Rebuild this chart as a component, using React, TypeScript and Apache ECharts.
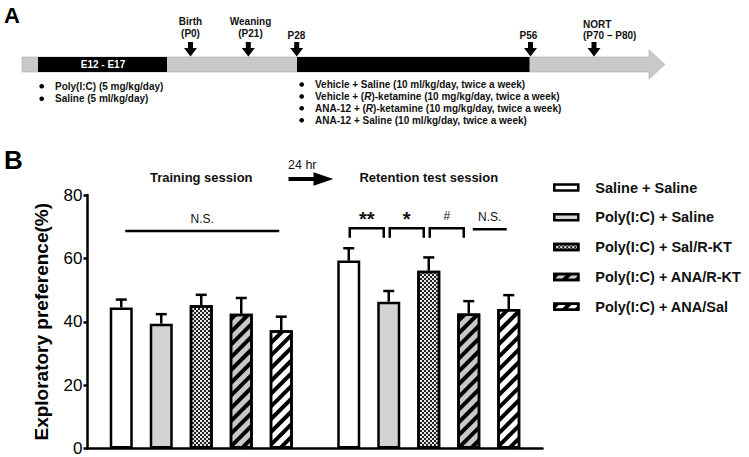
import { useEffect, useRef } from "react";
import * as echarts from "echarts";

const FONT = '"Liberation Sans", Arial, Helvetica, sans-serif';

// ---- data (panel B) ----
const sessions = ["Training session", "Retention test session"];
const groups = [
  "Saline + Saline",
  "Poly(I:C) + Saline",
  "Poly(I:C) + Sal/R-KT",
  "Poly(I:C) + ANA/R-KT",
  "Poly(I:C) + ANA/Sal",
];
const trainingMeans = [44.5, 39.4, 45.2, 42.5, 37.3];
const trainingSem = [2.5, 3.0, 3.3, 5.0, 4.3];
const retentionMeans = [59.3, 46.3, 56.1, 42.6, 44.0];
const retentionSem = [3.9, 3.4, 4.2, 3.9, 4.4];
const yTicks = [0, 20, 40, 60, 80];

// significance annotations
const sigSession = [0, 1, 1, 1, 1];
const sigFrom = [0, 0, 1, 2, 3];
const sigTo = [4, 1, 2, 3, 4];
const sigLevel = [68.6, 69.5, 69.5, 69.5, 69.2];
const sigLabels = ["N.S.", "**", "*", "#", "N.S."];
const sigKinds = ["line", "bracket", "bracket", "bracket", "line"];

// ---- panel A texts ----
const timelineLeftList = ["Poly(I:C) (5 mg/kg/day)", "Saline (5 ml/kg/day)"];
const timelineRightList = [
  "{b|Vehicle + Saline (10 ml/kg/day, twice a week)}",
  "{b|Vehicle + (}{i|R}{b|)-ketamine (10 mg/kg/day, twice a week)}",
  "{b|ANA-12 + (}{i|R}{b|)-ketamine (10 mg/kg/day, twice a week)}",
  "{b|ANA-12 + Saline (10 ml/kg/day, twice a week)}",
];

const BAR_W = 23;
const BAR_STEP = 40;

const fills = ["#ffffff", "#d2d2d2", "#e6e6e6", "#c8c8c8", "#ffffff"];
const stripe = {
  symbol: "rect",
  symbolSize: 1,
  color: "#000",
  dashArrayX: [1, 0],
  dashArrayY: [3.5, 4.5],
  rotation: -Math.PI / 4,
};
const decals: any[] = [
  null,
  null,
  {
    symbol: "rect",
    symbolSize: 1,
    color: "#222",
    dashArrayX: [[2, 2], [0, 2, 2, 0]],
    dashArrayY: [2, 0],
    rotation: 0,
  },
  stripe,
  stripe,
];

function downArrow(cx: number) {
  return {
    type: "polygon",
    shape: {
      points: [
        [cx - 2.5, 42],
        [cx + 2.5, 42],
        [cx + 2.5, 48],
        [cx + 6.5, 48],
        [cx, 56.5],
        [cx - 6.5, 48],
        [cx - 2.5, 48],
      ],
    },
    style: { fill: "#000" },
  };
}

function txt(text: string, x: number, y: number, size: number, opts: any = {}) {
  return {
    type: "text",
    x,
    y,
    style: {
      text,
      fill: opts.fill || "#111",
      fontFamily: FONT,
      fontSize: size,
      fontWeight: opts.weight || "bold",
      align: opts.align || "center",
      textAlign: opts.align || "center",
      verticalAlign: "middle",
      textVerticalAlign: "middle",
      rich: opts.rich,
    },
  };
}

export default function App() {
  const ref = useRef<HTMLDivElement>(null);

  useEffect(() => {
    if (!ref.current) return;
    const chart = echarts.init(ref.current, null, { renderer: "svg" });

    const barSeries = groups.map((g, i) => ({
      type: "bar",
      name: g,
      data: [trainingMeans[i], retentionMeans[i]],
      barWidth: BAR_W,
      barGap: ((BAR_STEP - BAR_W) / BAR_W) * 100 + "%",
      xAxisIndex: 0,
      yAxisIndex: 0,
      itemStyle: {
        color: fills[i],
        borderColor: "#000",
        borderWidth: 2.5,
        ...(decals[i] ? { decal: decals[i] } : {}),
      },
      emphasis: { disabled: true },
    }));

    const errData: number[][] = [];
    groups.forEach((_, i) => {
      errData.push([0, i, trainingMeans[i], trainingSem[i]]);
      errData.push([1, i, retentionMeans[i], retentionSem[i]]);
    });

    const errSeries = {
      type: "custom",
      name: "err",
      data: errData,
      encode: { x: 0, y: 2 },
      z: 5,
      silent: true,
      renderItem: (_p: any, api: any) => {
        const cat = api.value(0);
        const g = api.value(1);
        const mean = api.value(2);
        const sem = api.value(3);
        const base = api.coord([cat, mean]);
        const top = api.coord([cat, mean + sem]);
        const x = base[0] + (g - 2) * BAR_STEP;
        const st = { stroke: "#000", lineWidth: 2.5 };
        return {
          type: "group",
          children: [
            { type: "line", shape: { x1: x, y1: base[1], x2: x, y2: top[1] }, style: st },
            { type: "line", shape: { x1: x - 5.5, y1: top[1], x2: x + 5.5, y2: top[1] }, style: st },
          ],
        };
      },
    };

    const sigData = sigSession.map((s, i) => [s, sigFrom[i], sigTo[i], sigLevel[i]]);
    const sigSeries = {
      type: "custom",
      name: "sig",
      data: sigData,
      encode: { x: 0, y: 3 },
      z: 5,
      silent: true,
      renderItem: (params: any, api: any) => {
        const idx = params.dataIndex;
        const cat = api.value(0);
        const from = api.value(1);
        const to = api.value(2);
        const level = api.value(3);
        const c = api.coord([cat, level]);
        const kind = sigKinds[idx];
        const x1 = c[0] + (from - 2) * BAR_STEP + (kind === "bracket" ? 1 : 4);
        const x2 = c[0] + (to - 2) * BAR_STEP - (kind === "bracket" ? 5 : 2);
        const y = c[1];
        const st = { stroke: "#000", lineWidth: 2.5, fill: "none" };
        const label = sigLabels[idx];
        const isStar = label.indexOf("*") >= 0;
        const children: any[] = [];
        if (kind === "bracket") {
          children.push({
            type: "polyline",
            shape: { points: [[x1, y + 9.5], [x1, y], [x2, y], [x2, y + 9.5]] },
            style: st,
          });
        } else {
          children.push({ type: "line", shape: { x1, y1: y, x2, y2: y }, style: st });
        }
        children.push({
          type: "text",
          x: (x1 + x2) / 2,
          y: isStar ? y - 9 : y - 12.5,
          style: {
            text: label,
            fill: "#111",
            fontFamily: FONT,
            fontSize: isStar ? 20 : 12,
            fontWeight: isStar ? "bold" : "normal",
            align: "center",
            verticalAlign: "middle",
            letterSpacing: isStar ? 2 : 0,
          },
        });
        return { type: "group", children };
      },
    };

    const graphic: any[] = [
      txt("A", 4, 15, 22, { align: "left", fill: "#000" }),
      {
        type: "polygon",
        shape: {
          points: [
            [22, 57],
            [649, 57],
            [649, 50],
            [665, 64.5],
            [649, 79],
            [649, 72],
            [22, 72],
          ],
        },
        style: { fill: "#c9c9c9", stroke: "#a8a8a8", lineWidth: 0.6 },
      },
      { type: "rect", shape: { x: 38, y: 57, width: 129, height: 15 }, style: { fill: "#000" } },
      { type: "rect", shape: { x: 297, y: 57, width: 232.5, height: 15 }, style: { fill: "#000" } },
      txt("E12 - E17", 103, 64.5, 10, { fill: "#fff" }),
      downArrow(190.5),
      downArrow(248.3),
      downArrow(296.7),
      downArrow(530.5),
      downArrow(594),
      txt("Birth", 190.5, 21, 10),
      txt("(P0)", 190.5, 33, 10),
      txt("Weaning", 250.5, 21.5, 10),
      txt("(P21)", 250.5, 33.5, 10),
      txt("P28", 296.5, 35, 10),
      txt("P56", 528.5, 35, 10),
      txt("NORT", 583, 24, 10, { align: "left" }),
      txt("(P70 \u2013 P80)", 583, 35.5, 10, { align: "left" }),
      ...timelineLeftList.flatMap((t, i) => [
        { type: "circle", shape: { cx: 41.7, cy: 86.3 + i * 12.5, r: 2.3 }, style: { fill: "#000" } },
        txt(t, 55, 86.3 + i * 12.5, 10, { align: "left" }),
      ]),
      ...timelineRightList.flatMap((t, i) => [
        { type: "circle", shape: { cx: 301.7, cy: 84.5 + i * 11.9, r: 2.3 }, style: { fill: "#000" } },
        txt(t, 315, 84.5 + i * 11.9, 10, {
          align: "left",
          rich: {
            b: { fontFamily: FONT, fontSize: 10, fontWeight: "bold", fill: "#111", color: "#111" },
            i: { fontFamily: FONT, fontSize: 10, fontWeight: "bold", fontStyle: "italic", fill: "#111", color: "#111" },
          },
        }),
      ]),
      txt("B", 4, 160, 26, { align: "left", fill: "#000" }),
      txt("24 hr", 288, 165, 12.5, { align: "left", weight: "normal" }),
      {
        type: "polygon",
        shape: {
          points: [
            [288.5, 177],
            [313.5, 177],
            [313.5, 172.3],
            [333.3, 179],
            [313.5, 185.7],
            [313.5, 181],
            [288.5, 181],
          ],
        },
        style: { fill: "#000" },
      },
    ];

    chart.setOption({
      animation: false,
      backgroundColor: "#fff",
      textStyle: { fontFamily: FONT },
      grid: { left: 87.5, top: 195, width: 455, height: 253.5, containLabel: false },
      legend: {
        data: groups,
        orient: "vertical",
        left: 548,
        top: 175,
        icon: "rect",
        itemWidth: 24,
        itemHeight: 6,
        itemGap: 14.8,
        selectedMode: false,
        itemStyle: { borderWidth: 2.5, borderColor: "#000" },
        textStyle: {
          fontFamily: FONT,
          fontSize: 14.5,
          fontWeight: "bold",
          color: "#111",
          padding: [0, 0, 0, 12],
        },
      },
      xAxis: [
        {
          type: "category",
          data: sessions,
          position: "bottom",
          axisLine: { lineStyle: { color: "#000", width: 2.5 } },
          axisTick: { show: false },
          axisLabel: { show: false },
        },
        {
          type: "category",
          data: sessions,
          position: "top",
          axisLine: { show: false },
          axisTick: { show: false },
          axisLabel: {
            show: true,
            margin: 11,
            fontFamily: FONT,
            fontSize: 13,
            fontWeight: "bold",
            color: "#111",
          },
        },
      ],
      yAxis: {
        type: "value",
        min: yTicks[0],
        max: yTicks[yTicks.length - 1],
        interval: yTicks[1] - yTicks[0],
        name: "Exploratory preference(%)",
        nameLocation: "middle",
        nameRotate: 90,
        nameGap: 37,
        nameTextStyle: { fontFamily: FONT, fontSize: 19, fontWeight: "bold", color: "#000" },
        axisLine: { show: true, lineStyle: { color: "#000", width: 2.5 } },
        axisTick: { show: true, length: 4, lineStyle: { color: "#000", width: 2.5 } },
        axisLabel: { fontFamily: FONT, fontSize: 17, color: "#000", margin: 5 },
        splitLine: { show: false },
      },
      series: [...barSeries, errSeries, sigSeries],
      graphic,
    } as any);

    return () => chart.dispose();
  }, []);

  return <div ref={ref} style={{ width: 749, height: 457, position: "absolute", left: 0, top: 0 }} />;
}
